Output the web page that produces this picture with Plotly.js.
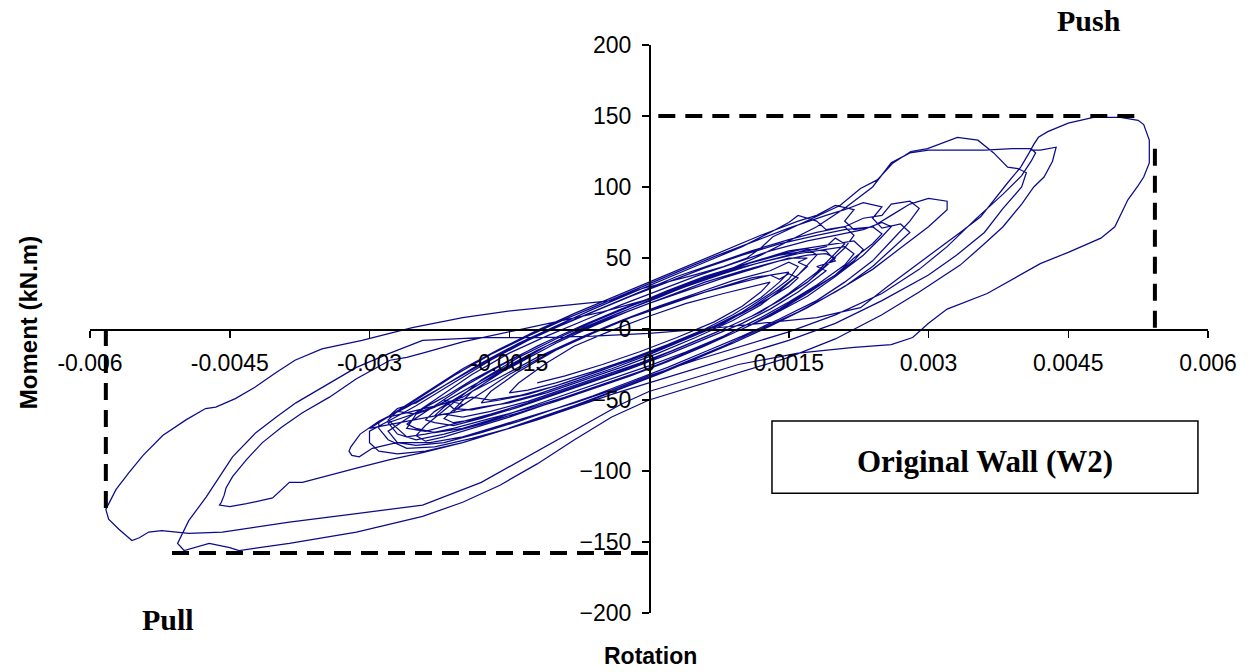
<!DOCTYPE html>
<html>
<head>
<meta charset="utf-8">
<script src="https://cdn.plot.ly/plotly-3.0.1.min.js"></script>
<style>html,body{margin:0;padding:0;background:#fff;}#chart{width:1254px;height:672px;}</style>
</head>
<body>
<div id="chart"></div>
<script>
// Tick labels
const xTickVals = [-0.006, -0.0045, -0.003, -0.0015, 0, 0.0015, 0.003, 0.0045, 0.006];
const xTickText = ["-0.006", "-0.0045", "-0.003", "-0.0015", "0", "0.0015", "0.003", "0.0045", "0.006"];
const yTickVals = [-200, -150, -100, -50, 0, 50, 100, 150, 200];

// Hysteresis history: [rotation, moment (kN.m)]
const cycle01 = [[-0.0012,-38],[-0.0009,-33],[-0.0005,-25],[-0.0001,-16],[0.0003,-6],[0.0007,5],[0.001,16],[0.0012,26],[0.0013,33],[0.0011,30],[0.0008,25],[0.0004,18],[0,9],[-0.0004,-1],[-0.0008,-12],[-0.0011,-24],[-0.0014,-38],[-0.0015,-45]];
const cycle02 = [[-0.0013,-43],[-0.001,-38],[-0.0006,-30],[-0.0002,-21],[0.0002,-11],[0.0006,0],[0.0009,10],[0.0012,22],[0.0014,33],[0.0015,40],[0.0013,38],[0.001,33],[0.0006,26],[0.0002,17],[-0.0002,8],[-0.0006,-3],[-0.001,-15],[-0.0014,-30],[-0.0017,-44],[-0.0018,-52]];
const cycle03 = [[-0.0016,-50],[-0.0013,-46],[-0.0009,-38],[-0.0005,-29],[-0.0001,-19],[0.0003,-9],[0.0007,2],[0.001,12],[0.0013,25],[0.0015,35],[0.0016,44],[0.0015,47],[0.0013,41],[0.0009,34],[0.0005,25],[0.0001,16],[-0.0003,6],[-0.0007,-5],[-0.0011,-18],[-0.0015,-32],[-0.0018,-45],[-0.002,-54],[-0.0021,-58]];
const cycle04 = [[-0.002,-53],[-0.0022,-50],[-0.0021,-56],[-0.0019,-57],[-0.0016,-53],[-0.0012,-46],[-0.0008,-37],[-0.0004,-28],[0,-18],[0.0004,-7],[0.0008,4],[0.0011,15],[0.0014,28],[0.0016,38],[0.0017,44],[0.0016,47],[0.0017,50],[0.0015,50],[0.0012,44],[0.0008,36],[0.0004,27],[0,18],[-0.0004,8],[-0.0008,-3],[-0.0012,-15],[-0.0016,-30],[-0.002,-46],[-0.0022,-55],[-0.0023,-61]];
const cycle05 = [[-0.0022,-60],[-0.002,-62],[-0.0017,-58],[-0.0013,-51],[-0.0009,-42],[-0.0005,-33],[-0.0001,-24],[0.0003,-14],[0.0007,-3],[0.0011,9],[0.0014,20],[0.0017,33],[0.0019,44],[0.002,50],[0.0019,53],[0.0017,52],[0.0014,48],[0.001,41],[0.0006,33],[0.0002,23],[-0.0002,13],[-0.0006,2],[-0.001,-10],[-0.0014,-24],[-0.0018,-38],[-0.0021,-50],[-0.0023,-58],[-0.0024,-64]];
const cycle06 = [[-0.0023,-66],[-0.0021,-68],[-0.0018,-63],[-0.0014,-55],[-0.001,-46],[-0.0006,-37],[-0.0002,-28],[0.0002,-18],[0.0006,-7],[0.001,4],[0.0013,14],[0.0016,26],[0.0018,36],[0.0019,41],[0.0018,44],[0.002,48],[0.0019,55],[0.0017,56],[0.0015,52],[0.0012,47],[0.0008,40],[0.0004,31],[0,21],[-0.0004,11],[-0.0008,0],[-0.0012,-12],[-0.0016,-26],[-0.002,-41],[-0.0023,-54],[-0.0025,-63],[-0.0026,-67]];
const cycle07 = [[-0.0025,-70],[-0.0023,-73],[-0.002,-70],[-0.0016,-62],[-0.0012,-53],[-0.0008,-44],[-0.0004,-35],[0,-26],[0.0004,-16],[0.0008,-5],[0.0012,8],[0.0015,19],[0.0018,31],[0.0021,45],[0.0022,53],[0.0021,58],[0.0019,56],[0.0016,53],[0.0012,47],[0.0008,39],[0.0004,30],[0,20],[-0.0004,9],[-0.0008,-3],[-0.0012,-15],[-0.0016,-29],[-0.002,-44],[-0.0023,-55],[-0.0025,-60],[-0.0027,-58],[-0.0028,-64]];
const cycle08 = [[-0.0027,-70],[-0.0026,-76],[-0.0024,-74],[-0.0021,-70],[-0.0017,-63],[-0.0013,-56],[-0.0009,-48],[-0.0005,-39],[-0.0001,-30],[0.0003,-20],[0.0007,-9],[0.0011,3],[0.0014,14],[0.0017,26],[0.002,38],[0.0022,48],[0.0023,56],[0.0022,62],[0.002,60],[0.0017,57],[0.0013,51],[0.0009,43],[0.0005,34],[0.0001,24],[-0.0003,14],[-0.0007,3],[-0.0011,-9],[-0.0015,-22],[-0.0019,-36],[-0.0022,-48],[-0.0024,-55],[-0.0025,-60]];
const cycle08a = [[-0.0026,-70],[-0.0024,-72],[-0.0021,-67],[-0.0017,-60],[-0.0013,-52],[-0.0009,-43],[-0.0005,-34],[-0.0001,-25],[0.0003,-14],[0.0007,-3],[0.0011,9],[0.0014,20],[0.0017,33],[0.0019,45],[0.0021,57],[0.0022,66],[0.0021,72],[0.0019,70],[0.0018,76],[0.0016,80],[0.0015,75],[0.0013,68],[0.001,58],[0.0006,47],[0.0002,36],[-0.0002,25],[-0.0006,14],[-0.001,2],[-0.0014,-10],[-0.0018,-24],[-0.0022,-40],[-0.0025,-52],[-0.0027,-56],[-0.0028,-62]];
const cycle08b = [[-0.0019,-48],[-0.0017,-50],[-0.0014,-47],[-0.001,-40],[-0.0006,-31],[-0.0002,-22],[0.0002,-12],[0.0006,-1],[0.001,11],[0.0013,22],[0.0015,30],[0.0016,36],[0.0015,39],[0.0014,35],[0.0013,38],[0.0011,36],[0.0008,30],[0.0004,22],[0,13],[-0.0004,3],[-0.0008,-8],[-0.0012,-20],[-0.0016,-34],[-0.0019,-44],[-0.002,-48]];
const cycle08c = [[-0.0028,-66],[-0.0027,-74],[-0.0025,-78],[-0.0022,-74],[-0.0018,-67],[-0.0014,-59],[-0.001,-51],[-0.0006,-42],[-0.0002,-33],[0.0002,-23],[0.0006,-12],[0.001,0],[0.0014,13],[0.0017,25],[0.002,38],[0.0022,50],[0.0024,60],[0.0025,67],[0.0024,72],[0.0022,70],[0.0021,76],[0.0022,84],[0.002,87],[0.0018,80],[0.0016,76],[0.0012,66],[0.0008,55],[0.0004,44],[0,33],[-0.0004,22],[-0.0008,11],[-0.0012,-1],[-0.0016,-14],[-0.002,-28],[-0.0024,-45],[-0.0027,-58],[-0.0029,-66]];
const cycle08d = [[-0.0029,-70],[-0.0028,-78],[-0.0026,-84],[-0.0023,-83],[-0.0019,-77],[-0.0015,-70],[-0.0011,-61],[-0.0007,-52],[-0.0003,-42],[0.0001,-32],[0.0005,-21],[0.0009,-10],[0.0013,2],[0.0017,15],[0.0021,30],[0.0024,44],[0.0026,56],[0.0028,68],[0.0027,74],[0.0025,71],[0.0024,78],[0.0025,86],[0.0023,89],[0.0021,84],[0.0019,80],[0.0015,71],[0.0011,61],[0.0007,51],[0.0003,40],[-0.0001,29],[-0.0005,18],[-0.0009,7],[-0.0013,-5],[-0.0017,-18],[-0.0021,-33],[-0.0025,-50],[-0.0028,-62],[-0.003,-70]];
const cycle09 = [[-0.0018,-55],[-0.0015,-52],[-0.0011,-45],[-0.0007,-36],[-0.0003,-27],[0.0001,-17],[0.0005,-6],[0.0009,6],[0.0012,17],[0.0014,27],[0.0016,38],[0.0017,45],[0.0018,52],[0.0017,57],[0.0015,55],[0.0012,49],[0.0009,42],[0.0005,33],[0.0001,22],[-0.0003,12],[-0.0007,1],[-0.0011,-12],[-0.0015,-27],[-0.0019,-44],[-0.0021,-57],[-0.0022,-63]];
const cycle10 = [[-0.0021,-66],[-0.0019,-64],[-0.0016,-58],[-0.0012,-50],[-0.0008,-41],[-0.0004,-32],[0,-22],[0.0004,-11],[0.0008,0],[0.0012,12],[0.0015,25],[0.0018,40],[0.002,53],[0.0021,60],[0.002,64],[0.0019,58],[0.0017,55],[0.0014,52],[0.001,45],[0.0006,37],[0.0002,27],[-0.0002,16],[-0.0006,5],[-0.001,-7],[-0.0014,-20],[-0.0018,-36],[-0.0021,-52],[-0.0024,-68],[-0.0025,-75]];
const cycle11 = [[-0.0024,-79],[-0.0022,-76],[-0.0019,-70],[-0.0015,-62],[-0.0011,-53],[-0.0007,-44],[-0.0003,-35],[0.0001,-25],[0.0005,-14],[0.0009,-3],[0.0013,9],[0.0017,23],[0.002,37],[0.0023,52],[0.0025,65],[0.0026,72],[0.0025,75],[0.0023,70],[0.002,66],[0.0017,62],[0.0013,55],[0.0009,46],[0.0005,37],[0.0001,27],[-0.0003,17],[-0.0007,6],[-0.0011,-5],[-0.0015,-17],[-0.0019,-32],[-0.0023,-50],[-0.0026,-63],[-0.0028,-72]];
const cycle12 = [[-0.0027,-80],[-0.0025,-82],[-0.0022,-80],[-0.0018,-73],[-0.0014,-65],[-0.001,-56],[-0.0006,-47],[-0.0002,-37],[0.0002,-27],[0.0006,-16],[0.001,-5],[0.0014,7],[0.0018,20],[0.0021,33],[0.0024,48],[0.0026,62],[0.0028,76],[0.0029,85],[0.0028,90],[0.0026,88],[0.0025,80],[0.0023,78],[0.0021,72],[0.0018,68],[0.0015,63],[0.0011,55],[0.0007,46],[0.0003,37],[-0.0001,26],[-0.0005,15],[-0.0009,4],[-0.0013,-8],[-0.0017,-22],[-0.0021,-38],[-0.0025,-54],[-0.0028,-65],[-0.003,-72]];
const cycle13 = [[-0.003,-80],[-0.0029,-86],[-0.0027,-88],[-0.0024,-86],[-0.002,-80],[-0.0016,-72],[-0.0012,-63],[-0.0008,-54],[-0.0004,-44],[0,-34],[0.0004,-23],[0.0008,-12],[0.0012,0],[0.0016,12],[0.002,26],[0.0024,42],[0.0027,57],[0.003,72],[0.0032,84],[0.0032,90],[0.003,92],[0.0028,88],[0.0026,80],[0.0024,72],[0.0021,70],[0.0018,66],[0.0014,60],[0.001,52],[0.0006,43],[0.0002,33],[-0.0002,23],[-0.0006,12],[-0.001,1],[-0.0014,-11],[-0.0018,-25],[-0.0022,-40],[-0.0026,-55],[-0.0029,-65],[-0.0031,-74],[-0.0032,-83]];
const cycle14 = [[-0.00322,-86],[-0.00319,-89],[-0.00311,-90],[-0.00297,-84],[-0.00271,-80],[-0.00235,-80],[-0.002,-76],[-0.0016,-68],[-0.0012,-60],[-0.0008,-52],[-0.0004,-43],[0,-33],[0.0005,-22],[0.001,-12],[0.0015,-2],[0.002,10],[0.0025,25],[0.0029,42],[0.0032,58],[0.0035,77],[0.0038,95],[0.004,108],[0.0041,118],[0.00415,124],[0.0041,127],[0.0039,127],[0.0036,126],[0.0033,126],[0.003,126],[0.0028,124],[0.0026,117],[0.0024,100],[0.0021,85],[0.0018,72],[0.0015,62],[0.0012,52],[0.0008,40],[0.0004,30],[0,21],[-0.0005,12],[-0.001,5],[-0.0015,-2],[-0.002,-9],[-0.00243,-17],[-0.0026,-20],[-0.00278,-22],[-0.00314,-35],[-0.00343,-48],[-0.00372,-59],[-0.00394,-69],[-0.00415,-80],[-0.00432,-92],[-0.00447,-104],[-0.00454,-112],[-0.00456,-117],[-0.00459,-122],[-0.00461,-124]];
const cycle15 = [[-0.0045,-125],[-0.00432,-123],[-0.00404,-119],[-0.00386,-108],[-0.00372,-108],[-0.0035,-104],[-0.00314,-98],[-0.00278,-92],[-0.00243,-87],[-0.002,-80],[-0.0016,-72],[-0.0012,-64],[-0.0008,-55],[-0.0004,-46],[0,-38],[0.0005,-28],[0.001,-18],[0.0015,-8],[0.002,4],[0.0025,20],[0.003,38],[0.0033,52],[0.0036,68],[0.0038,85],[0.004,100],[0.00405,110],[0.00396,113],[0.00385,114],[0.0037,124],[0.00353,133],[0.00331,135],[0.00299,127],[0.00281,125],[0.00262,117],[0.00245,105],[0.00227,99],[0.00205,87],[0.00176,78],[0.00152,71],[0.00133,65],[0.0012,57],[0.00105,50],[0.0008,44],[0.00048,38],[-0.0001,28],[-0.0004,20],[-0.00146,13],[-0.002,8],[-0.00254,1],[-0.00308,-8],[-0.00351,-14],[-0.0038,-22],[-0.00401,-31],[-0.00423,-41],[-0.00444,-49],[-0.00465,-55],[-0.00476,-56],[-0.00497,-64],[-0.00522,-75],[-0.00543,-89],[-0.00558,-101],[-0.00572,-113],[-0.00583,-127]];
const cycle16 = [[-0.0058,-134],[-0.00569,-141],[-0.00555,-149],[-0.00547,-147],[-0.00537,-143],[-0.00523,-142],[-0.00494,-144],[-0.00458,-143],[-0.00386,-136],[-0.00314,-130],[-0.00243,-124],[-0.0018,-108],[-0.0012,-86],[-0.0006,-64],[-0.0003,-53],[0,-44],[0.0005,-34],[0.00096,-25],[0.0016,-17],[0.0022,-13],[0.0026,-11],[0.00283,-6],[0.003,4],[0.0032,14],[0.00363,25],[0.0042,46],[0.0045,54],[0.00485,64],[0.005,72],[0.00514,91],[0.00525,101],[0.00531,107],[0.00537,117],[0.00537,133],[0.00531,144],[0.00525,147],[0.00506,149],[0.00477,149],[0.0045,145],[0.00428,139],[0.00418,135],[0.00413,130],[0.00408,124],[0.00399,114],[0.00385,103],[0.0037,91],[0.00356,79],[0.00334,68],[0.00305,54],[0.00281,42],[0.00256,30],[0.00227,15],[0.0018,8],[0.0012,4],[0.0006,0],[0,-3],[-0.0006,-5],[-0.0012,-6],[-0.0018,-6],[-0.00243,-8],[-0.00278,-17],[-0.00314,-27],[-0.0035,-41],[-0.00379,-52],[-0.004,-62],[-0.00422,-73],[-0.00447,-90],[-0.00458,-101],[-0.00475,-118],[-0.00494,-135],[-0.00504,-149]];
const cycle17 = [[-0.00506,-151],[-0.00499,-156],[-0.00483,-153],[-0.00472,-151],[-0.0045,-154],[-0.0044,-156],[-0.00386,-151],[-0.00314,-143],[-0.00243,-132],[-0.002,-122],[-0.0016,-110],[-0.0012,-95],[-0.0008,-78],[-0.0004,-62],[0,-50],[0.0005,-40],[0.001,-30],[0.0015,-20],[0.002,-7],[0.0025,10],[0.0029,26],[0.00334,45],[0.0036,60],[0.0038,72],[0.004,88],[0.00413,100],[0.00424,107],[0.00433,118],[0.00437,128],[0.0043,127],[0.0042,126],[0.0041,126]];

const cycles = [cycle01, cycle02, cycle03, cycle04, cycle05, cycle06, cycle07, cycle08,
                cycle08a, cycle08b, cycle08c, cycle08d, cycle09, cycle10, cycle11, cycle12,
                cycle13, cycle14, cycle15, cycle16, cycle17];

// Peak guide lines (dashed)
const pushGuideRot = [0.0001, 0.00523];
const pushGuideMom = [150, 150];
const pushDropRot = [0.00543, 0.00543];
const pushDropMom = [127, 0];
const pullGuideRot = [-0.00512, 0];
const pullGuideMom = [-157.7, -157.7];
const pullDropRot = [-0.00583, -0.00583];
const pullDropMom = [0, -126];

const rot = [], mom = [];
cycles.forEach(c => c.forEach(p => { rot.push(p[0]); mom.push(p[1]); }));

const dashStyle = {color: '#000', width: 4, dash: '17px,10px'};
const traces = [
  {x: rot, y: mom, mode: 'lines', line: {color: '#0b0b8a', width: 1.25}, hoverinfo: 'skip'},
  {x: pushGuideRot, y: pushGuideMom, mode: 'lines', line: dashStyle},
  {x: pushDropRot, y: pushDropMom, mode: 'lines', line: dashStyle},
  {x: pullGuideRot, y: pullGuideMom, mode: 'lines', line: dashStyle},
  {x: pullDropRot, y: pullDropMom, mode: 'lines', line: dashStyle}
];

const sans = 'Liberation Sans, Arial, sans-serif';
const serif = 'Liberation Serif, Times New Roman, serif';
const layout = {
  width: 1254, height: 672,
  margin: {l: 90, r: 46, t: 45, b: 59},
  paper_bgcolor: '#fff', plot_bgcolor: '#fff',
  showlegend: false,
  font: {family: sans, color: '#000'},
  xaxis: {
    range: [-0.006, 0.006], anchor: 'free', position: 0.5,
    tickvals: xTickVals, ticktext: xTickText,
    showline: true, linecolor: '#000', linewidth: 1.5,
    ticks: 'outside', ticklen: 7, tickwidth: 1.5, tickcolor: '#000',
    ticklabelstandoff: 6,
    showgrid: false, zeroline: false,
    tickfont: {family: sans, size: 23, color: '#000'}
  },
  yaxis: {
    range: [-200, 200], anchor: 'free', position: 0.5,
    tickvals: yTickVals,
    showline: true, linecolor: '#000', linewidth: 1.5,
    ticks: 'outside', ticklen: 7, tickwidth: 1.5, tickcolor: '#000',
    ticklabelstandoff: 6,
    showgrid: false, zeroline: false,
    tickfont: {family: sans, size: 23, color: '#000'}
  },
  shapes: [
    {type: 'rect', xref: 'paper', yref: 'paper', x0: 0.610, x1: 0.991, y0: 0.211, y1: 0.338,
     line: {color: '#000', width: 1.5}, fillcolor: '#fff', layer: 'above'}
  ],
  annotations: [
    {text: 'Moment (kN.m)', xref: 'paper', yref: 'paper', x: -0.0555, y: 0.512, textangle: -90,
     xanchor: 'center', yanchor: 'middle',
     showarrow: false, font: {family: sans, size: 24, color: '#000', weight: 'bold'}},
    {text: 'Rotation', xref: 'paper', yref: 'paper', x: 0.501, y: -0.0757,
     xanchor: 'center', yanchor: 'middle',
     showarrow: false, font: {family: sans, size: 23, color: '#000', weight: 'bold'}},
    {text: 'Original Wall (W2)', xref: 'paper', yref: 'paper', x: 0.8005, y: 0.266,
     xanchor: 'center', yanchor: 'middle',
     showarrow: false, font: {family: serif, size: 31, color: '#000', weight: 'bold'}},
    {text: 'Push', xref: 'paper', yref: 'paper', x: 0.894, y: 1.044,
     xanchor: 'center', yanchor: 'middle',
     showarrow: false, font: {family: serif, size: 30, color: '#000', weight: 'bold'}},
    {text: 'Pull', xref: 'paper', yref: 'paper', x: 0.0698, y: -0.0123,
     xanchor: 'center', yanchor: 'middle',
     showarrow: false, font: {family: serif, size: 30, color: '#000', weight: 'bold'}}
  ]
};

Plotly.newPlot('chart', traces, layout, {staticPlot: true, displayModeBar: false});
</script>
</body>
</html>
